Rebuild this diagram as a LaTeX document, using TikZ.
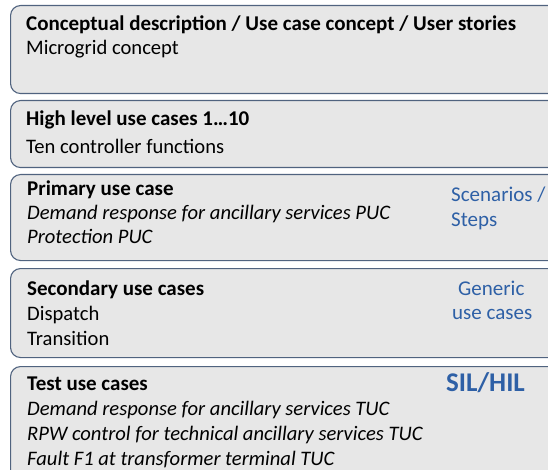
\documentclass[tikz,border=0pt]{standalone}
\usepackage{fontspec}
\setmainfont{Carlito}
\usetikzlibrary{positioning}

\definecolor{boxfill}{HTML}{E7E7E7}
\definecolor{boxline}{HTML}{50637F}
\definecolor{noteblue}{HTML}{2E60A6}

\begin{document}
\begin{tikzpicture}[x=1pt,y=-1pt,
    layer/.style={draw=boxline, fill=boxfill, line width=1.1pt, rounded corners=10pt,
        anchor=north west, inner sep=0pt, minimum width=560pt},
    line/.style={anchor=base west, inner sep=0pt, font=\fontsize{20.6}{24}\selectfont},
    head/.style={line, font=\fontsize{21}{24}\selectfont\bfseries},
    note/.style={line, text=noteblue, font=\fontsize{21}{24}\selectfont}]
    \useasboundingbox (0,0) rectangle (548,470);
    \clip (0,0) rectangle (548,470);

    % Layers
    \node[layer, minimum height=88pt] (concept) at (10,5) {};
    \node[layer, minimum height=67pt] (high) at (10,100) {};
    \node[layer, minimum height=86pt] (primary) at (10,174) {};
    \node[layer, minimum height=89pt] (secondary) at (10,268) {};
    \node[layer, minimum height=120pt] (test) at (10,366) {};

    % Conceptual description
    \node[head] (conceptT) at (26,31) {Conceptual description / Use case concept / User stories};
    \node[line] (conceptA) at (26,55) {Microgrid concept};

    % High level use cases
    \node[head] (highT) at (26,126) {High level use cases 1\ldots10};
    \node[line] (highA) at (26,154) {Ten controller functions};

    % Primary use case
    \node[head] (primaryT) at (27,196) {Primary use case};
    \node[line] (primaryA) at (27,220) {\itshape Demand response for ancillary services PUC};
    \node[line] (primaryB) at (27,243) {\itshape Protection PUC};
    \node[note] (scen) at (451,202) {Scenarios /};
    \node[note] (steps) at (451,226) {Steps};

    % Secondary use cases
    \node[head] (secondaryT) at (27,295) {Secondary use cases};
    \node[line] (secondaryA) at (27,320) {Dispatch};
    \node[line] (secondaryB) at (27,345) {Transition};
    \node[note] (generic) at (458,295) {Generic};
    \node[note] (usecases) at (452,319) {use cases};

    % Test use cases
    \node[head] (testT) at (27,390) {Test use cases};
    \node[line] (testA) at (27,415) {\itshape Demand response for ancillary services TUC};
    \node[line] (testB) at (27,440) {\itshape RPW control for technical ancillary services TUC};
    \node[line] (testC) at (27,465) {\itshape Fault F1 at transformer terminal TUC};
    \node[note, font=\fontsize{27}{28}\selectfont\bfseries] (sil) at (446,391) {SIL/HIL};
\end{tikzpicture}
\end{document}
